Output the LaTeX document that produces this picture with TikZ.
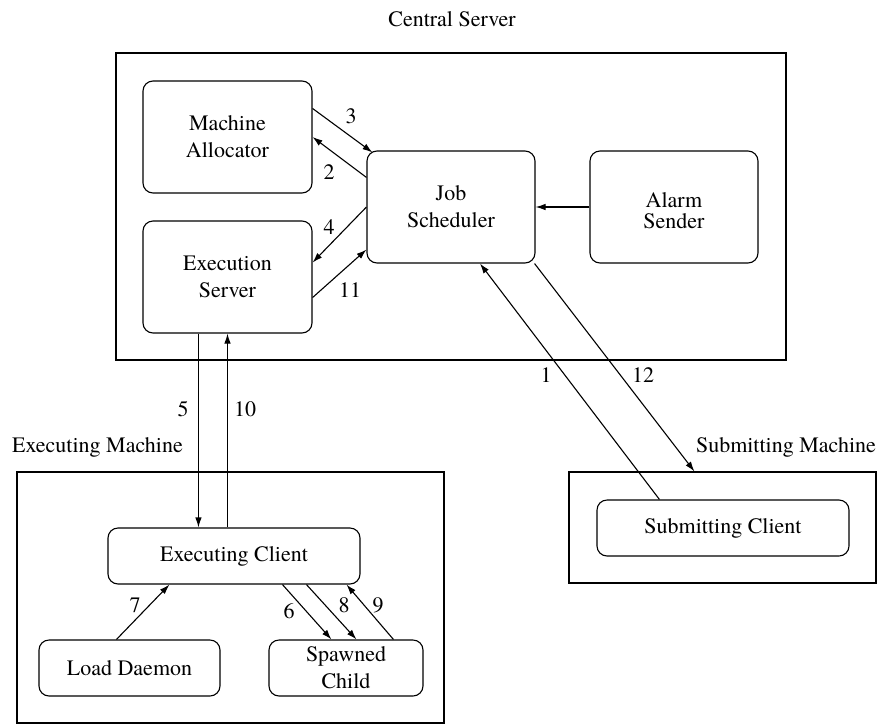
\documentclass[tikz,border=0pt]{standalone}
\usepackage{fontspec}
\IfFontExistsTF{TeX Gyre Termes}{\setmainfont{TeX Gyre Termes}}{\setmainfont{Liberation Serif}}
\usetikzlibrary{arrows.meta,calc}
\begin{document}
\begin{tikzpicture}[x=1pt,y=-1pt,
  box/.style={draw,line width=1.1pt,rounded corners=10pt,inner sep=0pt,align=center,font=\fontsize{22}{27}\selectfont},
  frame/.style={draw,line width=1.1pt,inner sep=0pt},
  lbl/.style={inner sep=0pt,anchor=base,font=\fontsize{22}{27}\selectfont},
  txt/.style={inner sep=0pt,align=center,font=\fontsize{22}{27}\selectfont},
  arr/.style={line width=1.1pt,-{Latex[length=10pt,width=6.5pt]}}]
\useasboundingbox (0,0) rectangle (880,726);
% frames
\node[frame,minimum width=670pt,minimum height=307pt] (csf) at (451,206.5) {};
\node[frame,minimum width=427pt,minimum height=251pt] (emf) at (230.5,597.5) {};
\node[frame,minimum width=307pt,minimum height=111pt] (smf) at (722.5,527.5) {};
\node[lbl] (tcs) at (452,26) {Central Server};
\node[lbl] (tem) at (97.5,452) {Executing Machine};
\node[lbl] (tsm) at (786,452) {Submitting Machine};
% boxes
\node[box,minimum width=169pt,minimum height=112pt] (ma) at (227.5,137) {Machine\\Allocator};
\node[box,minimum width=169pt,minimum height=112pt] (es) at (227.5,277) {Execution\\Server};
\node[box,minimum width=168pt,minimum height=112pt] (js) at (451,207) {Job\\Scheduler};
\node[box,minimum width=168pt,minimum height=112pt] (as) at (674,207) {};
\node[txt] (ast) at (674,211) {Alarm\\[-6pt]Sender};
\node[box,minimum width=252pt,minimum height=56pt] (ec) at (234,556) {Executing Client};
\node[box,minimum width=181pt,minimum height=56pt] (ld) at (129.5,668) {Load Daemon};
\node[box,minimum width=154pt,minimum height=56pt] (sc) at (346,668) {Spawned\\Child};
\node[box,minimum width=252pt,minimum height=56pt] (sub) at (723,528) {Submitting Client};
% connectors
\draw[arr] ($(ma.north east)+(0,28)$) -- ($(js.north west)+(6,2)$);
\draw[arr] ($(js.north west)+(0,27)$) -- (ma.east);
\draw[arr] (js.west) -- ($(es.south east)+(0,-71)$);
\draw[arr] ($(es.south east)+(0,-36)$) -- ($(js.south west)+(0,-14)$);
\draw[arr] (as.west) -- (js.east);
\draw[arr] ($(es.south west)+(56,0)$) coordinate (a5) -- (a5 |- ec.north);
\draw[arr] (es.south |- ec.north) -- (es.south);
\draw[arr] ($(sub.north west)+(63,0)$) -- ($(js.south)+(29,0)$);
\draw[arr] ($(js.south east)+(-1,0)$) -- ($(smf.north west)+(126,0)$);
\draw[arr] ($(ld.north west)+(78,0)$) -- ($(ec.south west)+(62,0)$);
\draw[arr] ($(ec.south west)+(175,0)$) -- ($(sc.north west)+(63,0)$);
\draw[arr] ($(ec.south west)+(199,0)$) -- ($(sc.north west)+(88,0)$);
\draw[arr] ($(sc.north west)+(125,0)$) -- ($(ec.south west)+(239,0)$);
% numbers
\node[lbl] (n3) at (351,123) {3};
\node[lbl] (n2) at (329,179) {2};
\node[lbl] (n4) at (329,234) {4};
\node[lbl] (n11) at (350,297) {11};
\node[lbl] (n5) at (183,416) {5};
\node[lbl] (n10) at (245,416) {10};
\node[lbl] (n1) at (546,382) {1};
\node[lbl] (n12) at (643,382) {12};
\node[lbl] (n7) at (135,612) {7};
\node[lbl] (n6) at (289,618) {6};
\node[lbl] (n8) at (344,612) {8};
\node[lbl] (n9) at (378,612) {9};
\end{tikzpicture}
\end{document}
